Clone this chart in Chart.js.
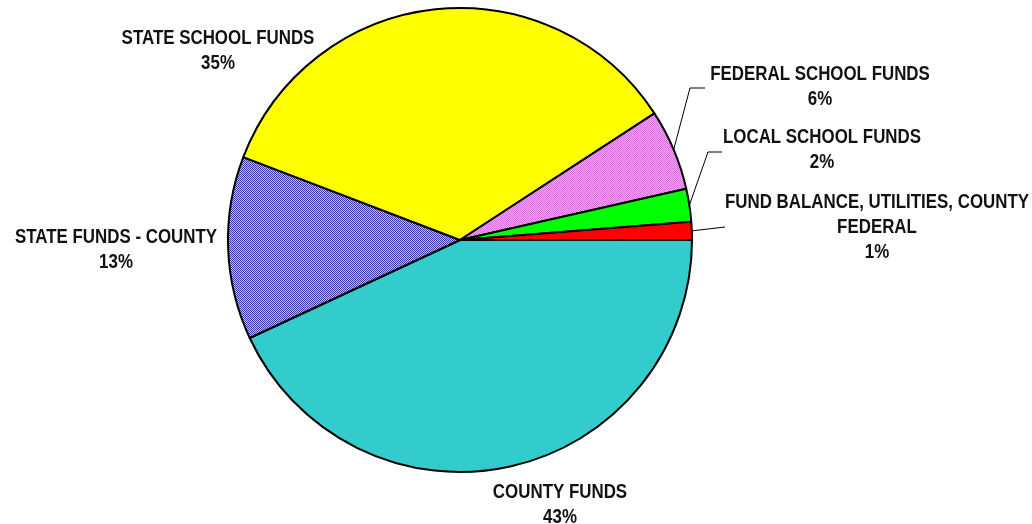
<!DOCTYPE html>
<html>
<head>
<meta charset="utf-8">
<script src="https://cdn.jsdelivr.net/npm/chart.js@4"></script>
<style>
  html, body { margin: 0; padding: 0; background: #fff; }
  #wrap { width: 1032px; height: 524px; position: relative; }
</style>
</head>
<body>
<div id="wrap"><canvas id="myChart" width="1032" height="524"></canvas></div>
<script>
// data, clockwise from 3 o'clock
const categories = [
  ['COUNTY FUNDS'],
  ['STATE FUNDS - COUNTY'],
  ['STATE SCHOOL FUNDS'],
  ['FEDERAL SCHOOL FUNDS'],
  ['LOCAL SCHOOL FUNDS'],
  ['FUND BALANCE, UTILITIES, COUNTY', 'FEDERAL']
];
const shares = [43.06, 12.75, 35.0, 5.64, 2.3, 1.25];

// label placement (text centre x, first line y) and leader elbows
const labelLayout = [
  { x: 560, y: 492 },
  { x: 116, y: 237 },
  { x: 218, y: 38 },
  { x: 820, y: 74, elbow: [690, 88], end: 705 },
  { x: 822, y: 137, elbow: [708, 152], end: 722 },
  { x: 877, y: 202, elbow: [725, 227], end: 725 }
];

let makePattern = (c1, c2) => {
  const p = document.createElement('canvas');
  p.width = 2; p.height = 2;
  const g = p.getContext('2d');
  g.fillStyle = c1; g.fillRect(0, 0, 2, 2);
  g.fillStyle = c2; g.fillRect(0, 0, 1, 1); g.fillRect(1, 1, 1, 1);
  return document.getElementById('myChart').getContext('2d').createPattern(p, 'repeat');
};

const fills = [
  '#33CCCC',
  makePattern('#C0C0EE', '#3838A8'),
  '#FFFF00',
  makePattern('#F4A8F4', '#D470D8'),
  '#00FF00',
  '#FF0000'
];

// Arial Narrow look: bold sans squeezed horizontally
const FONT = 'bold 20px "Liberation Sans", Arial, sans-serif';
const SQUEEZE = 0.845;

const labelPlugin = {
  id: 'sliceLabels',
  afterDraw(chart) {
    const ctx = chart.ctx;
    const arcs = chart.getDatasetMeta(0).data;
    categories.forEach((lines, i) => {
      const lay = labelLayout[i];
      const all = lines.concat([Math.round(shares[i]) + '%']);
      ctx.save();
      ctx.font = FONT;
      ctx.fillStyle = '#111';
      ctx.textAlign = 'center';
      ctx.textBaseline = 'middle';
      ctx.translate(lay.x, 0);
      ctx.scale(SQUEEZE, 1);
      all.forEach((t, k) => ctx.fillText(t, 0, lay.y + k * 25));
      ctx.restore();
      if (lay.elbow) {
        const a = arcs[i];
        const mid = (a.startAngle + a.endAngle) / 2;
        ctx.save();
        ctx.beginPath();
        ctx.lineWidth = 1;
        ctx.strokeStyle = '#000';
        ctx.moveTo(a.x + Math.cos(mid) * a.outerRadius, a.y + Math.sin(mid) * a.outerRadius);
        ctx.lineTo(lay.elbow[0], lay.elbow[1]);
        ctx.lineTo(lay.end, lay.elbow[1]);
        ctx.stroke();
        ctx.restore();
      }
    });
  }
};

new Chart(document.getElementById('myChart'), {
  type: 'pie',
  data: {
    labels: categories.map(l => l.join(' ')),
    datasets: [{
      data: shares,
      backgroundColor: fills,
      borderColor: '#000',
      borderWidth: 2,
      borderAlign: 'center'
    }]
  },
  options: {
    responsive: false,
    animation: false,
    rotation: 90,
    layout: { padding: { top: 7, bottom: 51, left: 227, right: 339 } },
    plugins: {
      legend: { display: false },
      tooltip: { enabled: false }
    }
  },
  plugins: [labelPlugin]
});
</script>
</body>
</html>
